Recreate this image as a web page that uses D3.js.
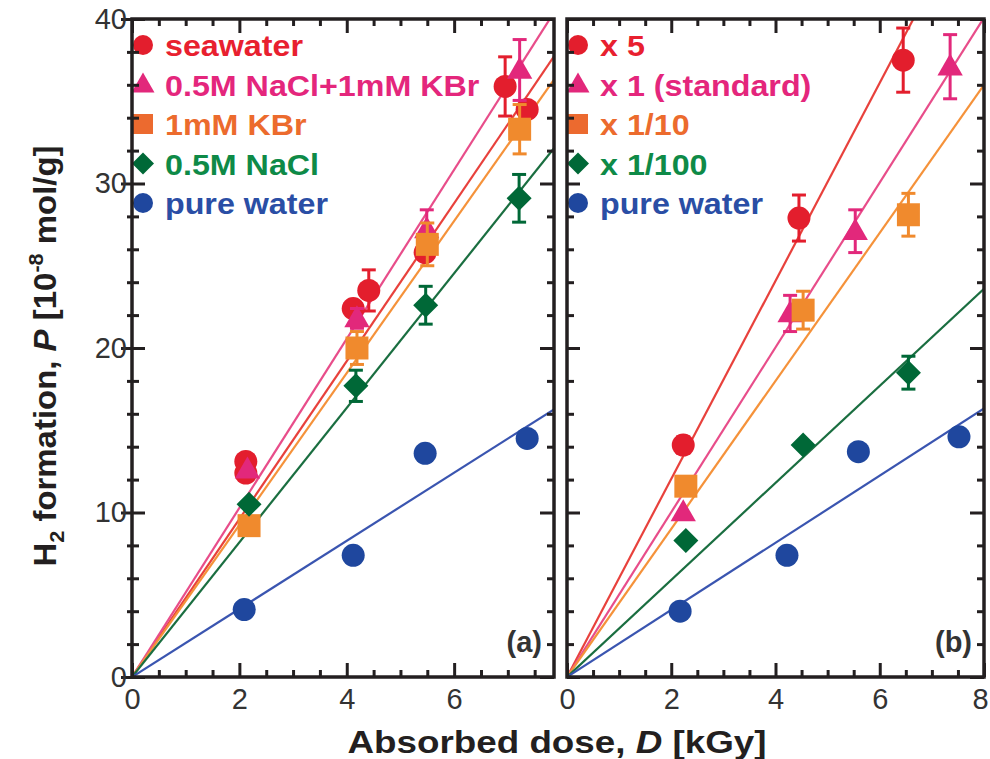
<!DOCTYPE html>
<html>
<head>
<meta charset="utf-8">
<script src="https://cdn.jsdelivr.net/npm/d3@7"></script>
<style>
  body { margin: 0; background: #fff; }
  svg text { font-family: "Liberation Sans", Arial, sans-serif; }
</style>
</head>
<body>
<svg id="chart" width="990" height="759"></svg>
<script>
// legend labels for both panels
const labelsA = ["seawater", "0.5M NaCl+1mM KBr", "1mM KBr", "0.5M NaCl", "pure water"];
const labelsB = ["x 5", "x 1 (standard)", "x 1/10", "x 1/100", "pure water"];
const shapes = ["circle", "triangle", "square", "diamond", "circle"];

// marker / line / legend-text colours (same order as labels)
const markerColors = ["#e31e2d", "#e2287b", "#f08a2d", "#006837", "#1f479e"];
const lineColors = ["#e8413c", "#e84d8a", "#f5923a", "#1a6e40", "#3a55b0"];
const textColors = ["#e8202f", "#e4267c", "#ec6b2d", "#0e8a47", "#2a4ea5"];

// panel (a): [dose kGy, P, error]
const seawater = [[2.12, 13.1, 0], [2.12, 12.4, 0], [4.12, 22.4, 0], [4.41, 23.5, 1.25], [5.46, 25.8, 0], [6.95, 35.9, 1.8], [7.36, 34.5, 0]];
const naclKbr = [[2.15, 12.6, 0], [4.19, 21.8, 0.6], [5.49, 27.2, 1.2], [7.22, 36.9, 1.85]];
const kbr = [[2.18, 9.2, 0], [4.19, 20.0, 1.0], [5.5, 26.3, 1.3], [7.22, 33.3, 1.5]];
const nacl = [[2.18, 10.5, 0], [4.17, 17.7, 0.95], [5.47, 22.6, 1.15], [7.21, 29.1, 1.45]];
const pureA = [[2.09, 4.1, 0], [4.12, 7.4, 0], [5.46, 13.6, 0], [7.36, 14.5, 0]];
const slopesA = [4.80, 5.14, 4.62, 4.09, 2.07];

// panel (b)
const times5 = [[2.23, 14.1, 0.5], [4.45, 27.9, 1.4], [6.45, 37.5, 1.95]];
const times1 = [[2.23, 10.0, 0], [4.28, 22.1, 1.1], [5.53, 27.1, 1.3], [7.35, 37.1, 1.95]];
const times10 = [[2.28, 11.6, 0], [4.53, 22.3, 1.15], [6.55, 28.1, 1.3]];
const times100 = [[2.28, 8.3, 0], [4.53, 14.1, 0], [6.55, 18.5, 1.0]];
const pureB = [[2.17, 4.0, 0], [4.22, 7.4, 0], [5.59, 13.7, 0], [7.52, 14.6, 0]];
const slopesB = [6.02, 5.01, 4.5, 2.95, 2.04];

const xTicksA = [0, 2, 4, 6];
const xTicksB = [0, 2, 4, 6, 8];
const yTicks = [0, 10, 20, 30, 40];

const svg = d3.select("#chart");
const axisColor = "#231f20";

const y = d3.scaleLinear().domain([0, 40]).range([677, 19]);

function symbolPath(shape, s) {
  // s ~ overall width in px
  if (shape === "circle") return d3.symbol(d3.symbolCircle, Math.PI * (s / 2) * (s / 2))();
  if (shape === "square") return d3.symbol(d3.symbolSquare, s * s)();
  if (shape === "diamond") {
    const h = s / 2;
    return `M0,${-h}L${h},0L0,${h}L${-h},0Z`;
  }
  // triangle
  const w = s * 1.15, h = s;
  return `M0,${-h * 0.6}L${w / 2},${h * 0.4}L${-w / 2},${h * 0.4}Z`;
}

function drawPanel(opts) {
  const { x, series, slopes, labels, xTicks, tag, leftLabels } = opts;
  const [x0, x1] = x.range();
  const g = svg.append("g");

  const clipId = "clip-" + tag;
  svg.append("clipPath").attr("id", clipId)
    .append("rect").attr("x", x0).attr("y", y(40)).attr("width", x1 - x0).attr("height", y(0) - y(40));

  // fit lines through origin
  const xmax = x.domain()[1];
  g.append("g").attr("clip-path", `url(#${clipId})`)
    .selectAll("line").data(slopes).join("line")
    .attr("x1", x(0)).attr("y1", y(0))
    .attr("x2", x(xmax)).attr("y2", d => y(d * xmax))
    .attr("stroke", (d, i) => lineColors[i])
    .attr("stroke-width", 2.2);

  // points + error bars
  series.forEach((pts, i) => {
    const sg = g.append("g");
    const withErr = pts.filter(p => p[2] > 0);
    sg.selectAll("line.eb").data(withErr).join("line").attr("class", "eb")
      .attr("x1", p => x(p[0])).attr("x2", p => x(p[0]))
      .attr("y1", p => y(p[1] - p[2])).attr("y2", p => y(p[1] + p[2]))
      .attr("stroke", markerColors[i]).attr("stroke-width", 3);
    [-1, 1].forEach(sgn => {
      sg.selectAll("line.cap" + sgn).data(withErr).join("line")
        .attr("x1", p => x(p[0]) - 7).attr("x2", p => x(p[0]) + 7)
        .attr("y1", p => y(p[1] + sgn * p[2])).attr("y2", p => y(p[1] + sgn * p[2]))
        .attr("stroke", markerColors[i]).attr("stroke-width", 3);
    });
    const size = shapes[i] === "circle" ? 23 : shapes[i] === "diamond" ? 25 : shapes[i] === "square" ? 23 : 22;
    sg.selectAll("path").data(pts).join("path")
      .attr("d", symbolPath(shapes[i], size))
      .attr("transform", p => `translate(${x(p[0])},${y(p[1])})`)
      .attr("fill", markerColors[i]);
  });

  // legend
  const rows = labels.map((l, i) => ({ l, i }));
  const leg = g.append("g");
  leg.selectAll("path").data(rows).join("path")
    .attr("d", d => symbolPath(shapes[d.i], shapes[d.i] === "diamond" ? 22 : 20))
    .attr("transform", d => `translate(${x0 + 11},${45 + d.i * 39.5})`)
    .attr("fill", d => d.i === 2 ? "#ec6a2f" : markerColors[d.i]);
  leg.selectAll("text").data(rows).join("text")
    .attr("transform", d => `translate(${x0 + 33},${45 + d.i * 39.5 + 11}) scale(1.075,1)`)
    .attr("font-size", 30).attr("font-weight", "bold")
    .attr("fill", d => textColors[d.i])
    .text(d => d.l);

  // frame
  g.append("rect").attr("x", x0).attr("y", y(40)).attr("width", x1 - x0).attr("height", y(0) - y(40))
    .attr("fill", "none").attr("stroke", axisColor).attr("stroke-width", 3.5);

  const minorX = d3.range(0, xmax + 0.001, 0.5).filter(v => v % 2 !== 0);
  const minorY = d3.range(0, 40.001, 2).filter(v => v % 10 !== 0);

  const styleAxis = sel => {
    sel.select(".domain").remove();
    sel.selectAll("line").attr("stroke", axisColor).attr("stroke-width", 3);
  };

  // bottom
  const bottom = g.append("g").attr("transform", `translate(0,${y(0)})`)
    .call(d3.axisBottom(x).tickValues(xTicks).tickSize(-14).tickPadding(11))
    .call(styleAxis);
  bottom.selectAll("text").attr("font-size", 29).attr("fill", "#333")
    .attr("dx", d => d === 8 ? -4 : 0);
  g.append("g").attr("transform", `translate(0,${y(0)})`)
    .call(d3.axisBottom(x).tickValues(minorX).tickSize(-7).tickFormat(""))
    .call(styleAxis);
  // top
  g.append("g").attr("transform", `translate(0,${y(40)})`)
    .call(d3.axisTop(x).tickValues(xTicks).tickSize(-14).tickFormat(""))
    .call(styleAxis);
  g.append("g").attr("transform", `translate(0,${y(40)})`)
    .call(d3.axisTop(x).tickValues(minorX).tickSize(-7).tickFormat(""))
    .call(styleAxis);
  // right
  g.append("g").attr("transform", `translate(${x1},0)`)
    .call(d3.axisRight(y).tickValues(yTicks).tickSize(-14).tickFormat(""))
    .call(styleAxis);
  g.append("g").attr("transform", `translate(${x1},0)`)
    .call(d3.axisRight(y).tickValues(minorY).tickSize(-7).tickFormat(""))
    .call(styleAxis);
  // left
  g.append("g").attr("transform", `translate(${x0},0)`)
    .call(d3.axisLeft(y).tickValues(yTicks).tickSize(-13).tickFormat(""))
    .call(styleAxis);
  g.append("g").attr("transform", `translate(${x0},0)`)
    .call(d3.axisLeft(y).tickValues(minorY).tickSize(-7).tickFormat(""))
    .call(styleAxis);
  if (leftLabels) {
    const left = g.append("g").attr("transform", `translate(${x0},0)`)
      .call(d3.axisLeft(y).tickValues(yTicks).tickSize(11).tickPadding(-6))
      .call(styleAxis);
    left.selectAll("text").attr("font-size", 29).attr("fill", "#333");
    g.append("g").attr("transform", `translate(${x0},0)`)
      .call(d3.axisLeft(y).tickValues(minorY).tickSize(5).tickFormat(""))
      .call(styleAxis);
  }

  // panel tag
  g.append("text").attr("x", x1 - 12).attr("y", 652)
    .attr("text-anchor", "end").attr("font-size", 29).attr("font-weight", "bold")
    .attr("fill", "#333").text(`(${tag})`);
}

const xA = d3.scaleLinear().domain([0, 7.86]).range([132, 554]);
const xB = d3.scaleLinear().domain([0, 8]).range([567, 984]);

drawPanel({ x: xA, series: [seawater, naclKbr, kbr, nacl, pureA], slopes: slopesA,
  labels: labelsA, xTicks: xTicksA, tag: "a", leftLabels: true });
drawPanel({ x: xB, series: [times5, times1, times10, times100, pureB], slopes: slopesB,
  labels: labelsB, xTicks: xTicksB, tag: "b", leftLabels: false });

// axis titles
const xt = svg.append("text").attr("transform", "translate(557,753) scale(1.15,1)")
  .attr("text-anchor", "middle").attr("font-size", 32).attr("font-weight", "bold").attr("fill", "#231f20");
xt.append("tspan").text("Absorbed dose, ");
xt.append("tspan").attr("font-style", "italic").text("D");
xt.append("tspan").text(" [kGy]");

const yt = svg.append("text").attr("transform", "translate(56,356) rotate(-90) scale(1.03,1)")
  .attr("text-anchor", "middle").attr("font-size", 32).attr("font-weight", "bold").attr("fill", "#231f20");
yt.append("tspan").text("H");
yt.append("tspan").attr("font-size", 21).attr("dy", 8).text("2");
yt.append("tspan").attr("dy", -8).text(" formation, ");
yt.append("tspan").attr("font-style", "italic").text("P");
yt.append("tspan").text(" [10");
yt.append("tspan").attr("font-size", 21).attr("dy", -13).text("-8");
yt.append("tspan").attr("dy", 13).text(" mol/g]");
</script>
</body>
</html>
